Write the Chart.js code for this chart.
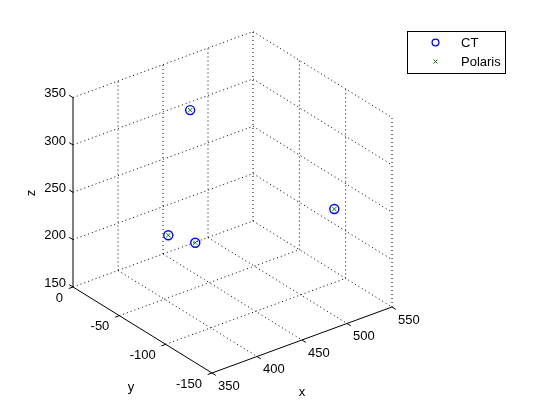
<!DOCTYPE html>
<html>
<head>
<meta charset="utf-8">
<style>
  html, body { margin: 0; padding: 0; background: #fff; }
</style>
<script src="https://cdn.jsdelivr.net/npm/chart.js"></script>
</head>
<body>
<canvas id="plot3d" width="560" height="420"></canvas>
<script>
  // axis ticks
  const xTicks = [350, 400, 450, 500, 550];
  const yTicks = [-150, -100, -50, 0];
  const zTicks = [150, 200, 250, 300, 350];

  // measured points (CT and Polaris coincide)
  const ctX = [439, 445.6, 393.2, 527.1];
  const ctY = [-40, -10, -90, -110];
  const ctZ = [330, 177.4, 236.2, 237.2];
  const polarisX = [439, 445.6, 393.2, 527.1];
  const polarisY = [-40, -10, -90, -110];
  const polarisZ = [330, 177.4, 236.2, 237.2];

  // view: screen position of (350, 0, 150) and screen step per data unit
  const view = { ox: 73, oy: 287, xx: 0.9, xy: -0.33, yx: -0.9267, yy: -0.5733, zy: -0.947 };
  const x0 = xTicks[0], y0 = yTicks[yTicks.length - 1], z0 = zTicks[0];
  const xMax = xTicks[xTicks.length - 1], yMin = yTicks[0], zMax = zTicks[zTicks.length - 1];

  function proj(x, y, z) {
    return {
      x: view.ox + view.xx * (x - x0) + view.yx * (y - y0),
      y: view.oy + view.xy * (x - x0) + view.yy * (y - y0) + view.zy * (z - z0)
    };
  }

  const datasets = [];

  datasets.push({
    label: 'CT',
    data: ctX.map((x, i) => proj(x, ctY[i], ctZ[i])),
    pointStyle: 'circle',
    pointRadius: 4.5,
    pointBorderWidth: 1.4,
    borderColor: '#0000ff',
    backgroundColor: 'rgba(0,0,0,0)',
    showLine: false,
    order: 1
  });
  datasets.push({
    label: 'Polaris',
    data: polarisX.map((x, i) => proj(x, polarisY[i], polarisZ[i])),
    pointStyle: 'crossRot',
    pointRadius: 3,
    pointBorderWidth: 1,
    borderColor: '#008000',
    backgroundColor: '#008000',
    showLine: false,
    order: 0
  });

  function seg(a, b, dashed, order) {
    datasets.push({
      data: [a, b],
      showLine: true,
      borderColor: '#000',
      borderWidth: 1,
      borderDash: dashed ? [1, 3] : [],
      pointRadius: 0,
      order: order
    });
  }

  // grid on the floor and the two back walls
  xTicks.slice(1).forEach(x => {
    seg(proj(x, y0, z0), proj(x, yMin, z0), true, 5);
    seg(proj(x, y0, z0), proj(x, y0, zMax), true, 5);
  });
  yTicks.forEach(y => {
    if (y !== yMin) seg(proj(x0, y, z0), proj(xMax, y, z0), true, 5);
    if (y !== y0) seg(proj(xMax, y, z0), proj(xMax, y, zMax), true, 5);
  });
  zTicks.slice(1).forEach(z => {
    seg(proj(x0, y0, z), proj(xMax, y0, z), true, 5);
    seg(proj(xMax, y0, z), proj(xMax, yMin, z), true, 5);
  });

  // solid axes
  seg(proj(x0, y0, z0), proj(x0, y0, zMax), false, 3);
  seg(proj(x0, y0, z0), proj(x0, yMin, z0), false, 3);
  seg(proj(x0, yMin, z0), proj(xMax, yMin, z0), false, 3);

  // tick marks
  const tk = 4.5;
  zTicks.forEach(z => {
    const p = proj(x0, y0, z);
    seg(p, { x: p.x - tk * 0.85, y: p.y - tk * 0.53 }, false, 3);
  });
  yTicks.forEach(y => {
    const p = proj(x0, y, z0);
    seg(p, { x: p.x - tk * 0.94, y: p.y + tk * 0.34 }, false, 3);
  });
  xTicks.forEach(x => {
    const p = proj(x, yMin, z0);
    seg(p, { x: p.x + tk * 0.85, y: p.y + tk * 0.53 }, false, 3);
  });

  const labelsPlugin = {
    id: 'labels3d',
    afterDraw(chart) {
      const c = chart.ctx;
      const sx = chart.scales.x, sy = chart.scales.y;
      const px = p => ({ x: sx.getPixelForValue(p.x), y: sy.getPixelForValue(p.y) });
      c.save();
      c.fillStyle = '#000';
      c.font = '13px "Liberation Sans", Arial, sans-serif';

      c.textAlign = 'right';
      c.textBaseline = 'middle';
      zTicks.forEach(z => {
        const p = px(proj(x0, y0, z));
        c.fillText(String(z), p.x - 7, p.y - 4);
      });
      yTicks.forEach(y => {
        const p = px(proj(x0, y, z0));
        c.fillText(String(y), p.x - 10, p.y + 11);
      });
      c.textAlign = 'left';
      xTicks.forEach(x => {
        const p = px(proj(x, yMin, z0));
        c.fillText(String(x), p.x + 6, p.y + 13);
      });

      // axis titles
      c.textAlign = 'center';
      const xl = px({ x: 302, y: 392 }), yl = px({ x: 131, y: 387 }), zl = px({ x: 31, y: 193 });
      c.fillText('x', xl.x, xl.y);
      c.fillText('y', yl.x, yl.y);
      c.save();
      c.translate(zl.x, zl.y);
      c.rotate(-Math.PI / 2);
      c.fillText('z', 0, 0);
      c.restore();

      // legend
      c.fillStyle = '#fff';
      c.fillRect(407.5, 31.5, 98, 42);
      c.strokeStyle = '#000';
      c.lineWidth = 1;
      c.strokeRect(407.5, 31.5, 98, 42);
      c.beginPath();
      c.strokeStyle = '#0000ff';
      c.lineWidth = 1.3;
      c.arc(435.5, 42.5, 3.4, 0, Math.PI * 2);
      c.stroke();
      c.beginPath();
      c.strokeStyle = '#008000';
      c.lineWidth = 1;
      c.moveTo(433.5, 59.5); c.lineTo(437.5, 63.5);
      c.moveTo(437.5, 59.5); c.lineTo(433.5, 63.5);
      c.stroke();
      c.fillStyle = '#000';
      c.textAlign = 'left';
      c.fillText('CT', 461, 43);
      c.fillText('Polaris', 461, 62);
      c.restore();
    }
  };

  const chart = new Chart(document.getElementById('plot3d'), {
    type: 'scatter',
    data: { datasets: datasets },
    options: {
      responsive: false,
      animation: false,
      layout: { padding: 0 },
      scales: {
        x: { type: 'linear', min: 0, max: 560, display: false },
        y: { type: 'linear', min: 0, max: 420, reverse: true, display: false }
      },
      plugins: {
        legend: { display: false },
        tooltip: { enabled: false }
      }
    },
    plugins: [labelsPlugin]
  });

  // make one scale unit equal one canvas pixel
  const area = chart.chartArea;
  chart.options.scales.x.min = area.left;
  chart.options.scales.x.max = area.right;
  chart.options.scales.y.min = area.top;
  chart.options.scales.y.max = area.bottom;
  chart.update();
</script>
</body>
</html>
